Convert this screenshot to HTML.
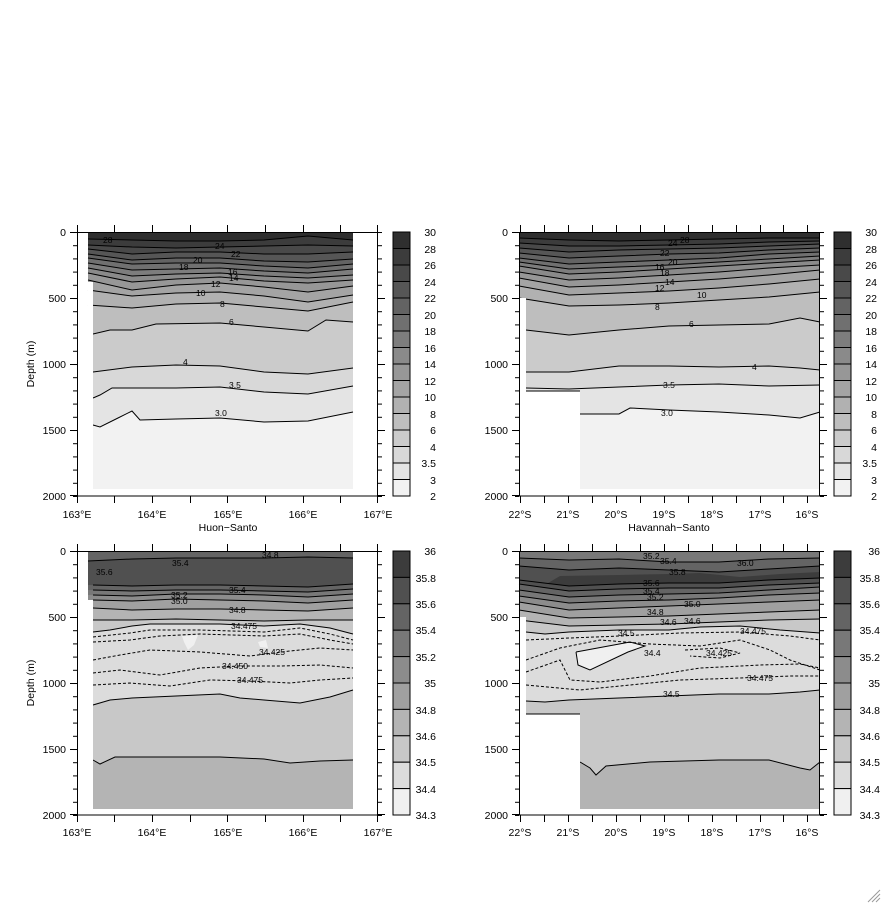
<!DOCTYPE html>
<html><head><meta charset="utf-8"><style>
html,body{margin:0;padding:0;background:#fff;}
svg{display:block;}
text{font-family:"Liberation Sans",sans-serif;font-size:10.5px;fill:#000;}
.cl{font-size:8.5px;}
</style></head><body>
<svg width="882" height="905" viewBox="0 0 882 905" xmlns="http://www.w3.org/2000/svg">
<defs>
<pattern id="ty1" patternUnits="userSpaceOnUse" width="5" height="13.2" patternTransform="translate(0,232)"><rect x="0" y="0" width="5" height="1" fill="#000"/></pattern>
<pattern id="ty2" patternUnits="userSpaceOnUse" width="5" height="13.2" patternTransform="translate(0,551)"><rect x="0" y="0" width="5" height="1" fill="#000"/></pattern>
</defs>

<!-- ============ TOP LEFT (temperature, Huon-Santo) ============ -->
<g>
<rect x="88" y="232" width="265" height="257" fill="#2f2f2f"/>
<g stroke="none">
<path fill="#3c3c3c" d="M88,239 L132,240 L176,241 L220,241 L264,240 L308,236 L353,240 L353,489 L88,489Z"/>
<path fill="#494949" d="M88,245 L132,247 L176,248 L220,247 L264,246 L308,245 L353,246 L353,489 L88,489Z"/>
<path fill="#565656" d="M88,249 L132,254 L176,252 L220,252 L264,254 L308,254 L353,252 L353,489 L88,489Z"/>
<path fill="#636363" d="M88,254 L132,260 L176,258 L220,258 L264,261 L308,262 L353,259 L353,489 L88,489Z"/>
<path fill="#707070" d="M88,258 L132,264 L176,263 L220,263 L264,266 L308,268 L353,264 L353,489 L88,489Z"/>
<path fill="#7d7d7d" d="M88,263 L132,270 L176,269 L220,268 L264,271 L308,273 L353,269 L353,489 L88,489Z"/>
<path fill="#8a8a8a" d="M88,268 L132,276 L176,274 L220,273 L264,276 L308,278 L353,275 L353,489 L88,489Z"/>
<path fill="#979797" d="M88,273 L132,282 L176,279 L220,277 L264,281 L308,283 L353,280 L353,489 L88,489Z"/>
<path fill="#a4a4a4" d="M88,280 L132,290 L176,285 L220,283 L264,287 L308,292 L353,286 L353,489 L88,489Z"/>
<path fill="#b1b1b1" d="M88,290 L132,296 L176,293 L220,292 L264,296 L308,302 L353,295 L353,489 L88,489Z"/>
<path fill="#bebebe" d="M88,305 L132,308 L176,304 L220,303 L264,307 L308,311 L353,302 L353,489 L88,489Z"/>
<path fill="#cbcbcb" d="M88,334 L110,330 L132,330 L156,324 L220,323 L264,327 L308,331 L326,320 L353,322 L353,489 L88,489Z"/>
<path fill="#d8d8d8" d="M88,372 L132,367 L176,365 L220,366 L264,372 L308,374 L353,368 L353,489 L88,489Z"/>
<path fill="#e4e4e4" d="M88,398 L100,395 L112,388 L176,388 L220,387 L264,392 L308,394 L353,386 L353,489 L88,489Z"/>
<path fill="#f2f2f2" d="M88,425 L100,427 L118,418 L132,411 L140,420 L176,419 L220,418 L264,422 L308,421 L353,412 L353,489 L88,489Z"/>
</g>
<g fill="none" stroke="#000" stroke-width="1">
<polyline points="88,239 132,240 176,241 220,241 264,240 308,236 353,240"/>
<polyline points="88,245 132,247 176,248 220,247 264,246 308,245 353,246"/>
<polyline points="88,249 132,254 176,252 220,252 264,254 308,254 353,252"/>
<polyline points="88,254 132,260 176,258 220,258 264,261 308,262 353,259"/>
<polyline points="88,258 132,264 176,263 220,263 264,266 308,268 353,264"/>
<polyline points="88,263 132,270 176,269 220,268 264,271 308,273 353,269"/>
<polyline points="88,268 132,276 176,274 220,273 264,276 308,278 353,275"/>
<polyline points="88,273 132,282 176,279 220,277 264,281 308,283 353,280"/>
<polyline points="88,280 132,290 176,285 220,283 264,287 308,292 353,286"/>
<polyline points="88,290 132,296 176,293 220,292 264,296 308,302 353,295"/>
<polyline points="88,305 132,308 176,304 220,303 264,307 308,311 353,302"/>
<polyline points="93,334 110,330 132,330 156,324 220,323 264,327 308,331 326,320 353,322"/>
<polyline points="93,372 132,367 176,365 220,366 264,372 308,374 353,368"/>
<polyline points="93,398 100,395 112,388 176,388 220,387 264,392 308,394 353,386"/>
<polyline points="93,425 100,427 118,418 132,411 140,420 176,419 220,418 264,422 308,421 353,412"/>
</g>
<rect x="88" y="282" width="5" height="208" fill="#fff"/>
<g class="cl">
<text class="cl" x="103" y="243">28</text><text class="cl" x="215" y="249">24</text>
<text class="cl" x="231" y="257">22</text><text class="cl" x="193" y="263">20</text>
<text class="cl" x="179" y="270">18</text><text class="cl" x="228" y="275">16</text>
<text class="cl" x="229" y="281">14</text><text class="cl" x="211" y="287">12</text>
<text class="cl" x="196" y="296">10</text><text class="cl" x="220" y="307">8</text>
<text class="cl" x="229" y="325">6</text><text class="cl" x="183" y="365">4</text>
<text class="cl" x="229" y="388">3.5</text><text class="cl" x="215" y="416">3.0</text>
</g>
</g>

<!-- ============ TOP RIGHT (temperature, Havannah-Santo) ============ -->
<g>
<rect x="519" y="232" width="301" height="257" fill="#2f2f2f"/>
<path fill="#3c3c3c" d="M519,238 L569,240 L619,241 L669,240 L719,239 L769,238 L820,238 L820,489 L519,489Z"/>
<path fill="#494949" d="M519,243 L569,246 L619,246 L669,245 L719,244 L769,242 L820,241 L820,489 L519,489Z"/>
<path fill="#565656" d="M519,248 L569,252 L619,250 L669,249 L719,248 L769,246 L820,244 L820,489 L519,489Z"/>
<path fill="#636363" d="M519,253 L569,258 L619,256 L669,254 L719,253 L769,250 L820,248 L820,489 L519,489Z"/>
<path fill="#707070" d="M519,258 L569,264 L619,262 L669,260 L719,258 L769,254 L820,252 L820,489 L519,489Z"/>
<path fill="#7d7d7d" d="M519,262 L569,269 L619,267 L669,265 L719,262 L769,259 L820,256 L820,489 L519,489Z"/>
<path fill="#8a8a8a" d="M519,266 L569,274 L619,272 L669,269 L719,266 L769,263 L820,260 L820,489 L519,489Z"/>
<path fill="#979797" d="M519,272 L569,280 L619,278 L669,275 L719,272 L769,268 L820,265 L820,489 L519,489Z"/>
<path fill="#a4a4a4" d="M519,278 L569,287 L619,285 L669,282 L719,279 L769,275 L820,270 L820,489 L519,489Z"/>
<path fill="#b1b1b1" d="M519,286 L569,295 L619,293 L669,291 L719,288 L769,284 L820,279 L820,489 L519,489Z"/>
<path fill="#bebebe" d="M519,298 L569,306 L619,305 L669,303 L719,300 L769,297 L820,292 L820,489 L519,489Z"/>
<path fill="#cbcbcb" d="M519,330 L569,335 L619,330 L669,326 L719,325 L769,324 L800,318 L820,322 L820,489 L519,489Z"/>
<path fill="#d8d8d8" d="M519,372 L569,372 L619,366 L669,366 L719,367 L769,366 L800,368 L820,370 L820,489 L519,489Z"/>
<path fill="#e4e4e4" d="M519,388 L569,389 L619,387 L669,385 L719,384 L769,386 L820,385 L820,489 L519,489Z"/>
<path fill="#f2f2f2" d="M580,414 L619,414 L630,408 L669,410 L719,412 L769,415 L800,418 L820,412 L820,489 L580,489Z"/>
<g fill="none" stroke="#000">
<polyline points="519,238 569,240 619,241 669,240 719,239 769,238 820,238"/>
<polyline points="519,243 569,246 619,246 669,245 719,244 769,242 820,241"/>
<polyline points="519,248 569,252 619,250 669,249 719,248 769,246 820,244"/>
<polyline points="519,253 569,258 619,256 669,254 719,253 769,250 820,248"/>
<polyline points="519,258 569,264 619,262 669,260 719,258 769,254 820,252"/>
<polyline points="519,262 569,269 619,267 669,265 719,262 769,259 820,256"/>
<polyline points="519,266 569,274 619,272 669,269 719,266 769,263 820,260"/>
<polyline points="519,272 569,280 619,278 669,275 719,272 769,268 820,265"/>
<polyline points="519,278 569,287 619,285 669,282 719,279 769,275 820,270"/>
<polyline points="519,286 569,295 619,293 669,291 719,288 769,284 820,279"/>
<polyline points="519,298 569,306 619,305 669,303 719,300 769,297 820,292"/>
<polyline points="526,330 569,335 619,330 669,326 719,325 769,324 800,318 820,322"/>
<polyline points="526,372 569,372 619,366 669,366 719,367 769,366 800,368 820,370"/>
<polyline points="526,388 569,389 619,387 669,385 719,384 769,386 820,385"/>
<polyline points="580,414 619,414 630,408 669,410 719,412 769,415 800,418 820,412"/>
</g>
<rect x="519" y="298" width="7" height="192" fill="#fff"/>
<rect x="519" y="391" width="61" height="99" fill="#fff"/>
<line x1="526" y1="391" x2="580" y2="391" stroke="#000"/>
<text class="cl" x="680" y="243">28</text><text class="cl" x="668" y="246">24</text>
<text class="cl" x="660" y="256">22</text><text class="cl" x="668" y="265">20</text>
<text class="cl" x="655" y="270">16</text><text class="cl" x="660" y="276">18</text>
<text class="cl" x="665" y="285">14</text><text class="cl" x="655" y="291">12</text>
<text class="cl" x="697" y="298">10</text><text class="cl" x="655" y="310">8</text>
<text class="cl" x="689" y="327">6</text><text class="cl" x="752" y="370">4</text>
<text class="cl" x="663" y="388">3.5</text><text class="cl" x="661" y="416">3.0</text>
</g>

<!-- ============ BOTTOM LEFT (salinity) ============ -->
<g>
<rect x="88" y="551" width="265" height="258" fill="#646464"/>
<path fill="#505050" d="M88,561 L132,559 L176,558 L220,558 L264,558 L308,557 L353,558 L353,809 L88,809Z"/>
<path fill="#646464" d="M88,585 L132,586 L176,585 L220,585 L264,586 L308,587 L353,584 L353,809 L88,809Z"/>
<path fill="#787878" d="M88,590 L132,591 L176,590 L220,590 L264,591 L308,592 L353,589 L353,809 L88,809Z"/>
<path fill="#8c8c8c" d="M88,595 L132,596 L176,594 L220,594 L264,595 L308,597 L353,594 L353,809 L88,809Z"/>
<path fill="#a0a0a0" d="M88,600 L132,601 L176,599 L220,600 L264,601 L308,603 L353,600 L353,809 L88,809Z"/>
<path fill="#b4b4b4" d="M88,608 L132,610 L176,609 L220,609 L264,610 L308,611 L353,608 L353,809 L88,809Z"/>
<path fill="#c8c8c8" d="M88,620 L132,620 L176,619 L220,620 L264,621 L308,620 L353,620 L353,809 L88,809Z"/>
<path fill="#dcdcdc" d="M88,632 L110,630 L132,626 L150,624 L176,624 L220,624 L264,626 L300,624 L330,628 L353,634 L353,809 L88,809Z"/>
<path fill="#c8c8c8" d="M88,705 L110,700 L132,698 L176,696 L220,694 L240,698 L264,700 L300,703 L330,697 L353,690 L353,809 L88,809Z"/>
<path fill="#b4b4b4" d="M93,760 L100,764 L115,757 L176,757 L220,757 L264,759 L290,763 L320,761 L353,760 L353,809 L93,809Z"/>
<path fill="#f0f0f0" d="M182,636 L198,635 L194,645 L188,650 L184,642Z"/>
<path fill="#f0f0f0" d="M258,642 L266,640 L268,648 L260,647Z"/>
<g fill="none" stroke="#000">
<polyline points="88,561 132,559 176,558 220,558 264,558 308,557 353,558"/>
<polyline points="93,585 132,586 176,585 220,585 264,586 308,587 353,584"/>
<polyline points="93,590 132,591 176,590 220,590 264,591 308,592 353,589"/>
<polyline points="93,595 132,596 176,594 220,594 264,595 308,597 353,594"/>
<polyline points="93,600 132,601 176,599 220,600 264,601 308,603 353,600"/>
<polyline points="93,608 132,610 176,609 220,609 264,610 308,611 353,608"/>
<polyline points="93,620 132,620 176,619 220,620 264,621 308,620 353,620"/>
<polyline points="93,632 110,630 132,626 150,624 176,624 220,624 264,626 300,624 330,628 353,634"/>
<polyline points="93,705 110,700 132,698 176,696 220,694 240,698 264,700 300,703 330,697 353,690"/>
<polyline points="93,760 100,764 115,757 176,757 220,757 264,759 290,763 320,761 353,760"/>
</g>
<g fill="none" stroke="#000" stroke-dasharray="3,2">
<polyline points="93,637 130,633 150,630 200,630 264,632 300,628 330,634 353,640"/>
<polyline points="93,642 130,640 160,636 200,634 264,636 300,634 330,640 353,644"/>
<polyline points="93,660 120,655 150,650 200,652 250,656 290,651 320,648 353,650"/>
<polyline points="93,673 120,670 160,675 200,668 240,666 280,666 320,665 353,668"/>
<polyline points="93,685 130,683 170,686 210,680 250,681 290,683 320,680 353,678"/>
</g>
<rect x="88" y="600" width="5" height="210" fill="#fff"/>
<text class="cl" x="262" y="558">34.8</text><text class="cl" x="172" y="566">35.4</text>
<text class="cl" x="96" y="575">35.6</text><text class="cl" x="229" y="593">35.4</text>
<text class="cl" x="171" y="598">35.2</text><text class="cl" x="171" y="604">35.0</text>
<text class="cl" x="229" y="613">34.8</text><text class="cl" x="231" y="629">34.475</text>
<text class="cl" x="259" y="655">34.425</text><text class="cl" x="222" y="669">34.450</text>
<text class="cl" x="237" y="683">34.475</text>
</g>

<!-- ============ BOTTOM RIGHT (salinity) ============ -->
<g>
<rect x="519" y="551" width="301" height="258" fill="#787878"/>
<path fill="#646464" d="M519,558 L569,560 L619,559 L669,562 L719,562 L769,559 L820,558 L820,809 L519,809Z"/>
<path fill="#505050" d="M519,566 L569,570 L619,568 L669,570 L719,572 L769,569 L820,566 L820,809 L519,809Z"/>
<path fill="#3c3c3c" d="M560,576 L619,575 L669,574 L700,573 L740,577 L780,574 L820,572 L820,809 L519,809 L519,600Z"/>
<path fill="#505050" d="M519,580 L569,586 L619,584 L669,583 L719,583 L769,580 L820,578 L820,809 L519,809Z"/>
<path fill="#646464" d="M519,584 L569,591 L619,589 L669,588 L719,588 L769,585 L820,583 L820,809 L519,809Z"/>
<path fill="#787878" d="M519,590 L569,597 L619,595 L669,594 L719,593 L769,590 L820,587 L820,809 L519,809Z"/>
<path fill="#8c8c8c" d="M519,596 L569,603 L619,601 L669,600 L719,598 L769,595 L820,593 L820,809 L519,809Z"/>
<path fill="#a0a0a0" d="M519,602 L569,610 L619,608 L669,606 L719,604 L769,602 L820,600 L820,809 L519,809Z"/>
<path fill="#b4b4b4" d="M519,610 L569,618 L619,617 L669,616 L719,614 L769,612 L820,610 L820,809 L519,809Z"/>
<path fill="#c8c8c8" d="M519,620 L569,626 L619,625 L669,624 L719,622 L769,620 L820,619 L820,809 L519,809Z"/>
<path fill="#dcdcdc" d="M519,632 L545,634 L569,632 L619,630 L669,630 L700,627 L740,626 L780,630 L820,633 L820,809 L519,809Z"/>
<path fill="#c8c8c8" d="M519,701 L545,702 L569,700 L619,698 L669,696 L719,694 L769,694 L800,692 L820,690 L820,809 L519,809Z"/>
<path fill="#b4b4b4" d="M580,762 L590,768 L596,775 L606,766 L650,762 L719,760 L769,760 L800,768 L810,770 L820,762 L820,809 L580,809Z"/>
<path fill="#f0f0f0" d="M576,652 L630,642 L645,646 L628,652 L590,670 L578,665Z"/>
<g fill="none" stroke="#000">
<polyline points="519,558 569,560 619,559 669,562 719,562 769,559 820,558"/>
<polyline points="519,566 569,570 619,568 669,570 719,572 769,569 820,566"/>
<polyline points="519,580 569,586 619,584 669,583 719,583 769,580 820,578"/>
<polyline points="519,584 569,591 619,589 669,588 719,588 769,585 820,583"/>
<polyline points="519,590 569,597 619,595 669,594 719,593 769,590 820,587"/>
<polyline points="519,596 569,603 619,601 669,600 719,598 769,595 820,593"/>
<polyline points="519,602 569,610 619,608 669,606 719,604 769,602 820,600"/>
<polyline points="519,610 569,618 619,617 669,616 719,614 769,612 820,610"/>
<polyline points="519,620 569,626 619,625 669,624 719,622 769,620 820,619"/>
<polyline points="526,632 545,634 569,632 619,630 669,630 700,627 740,626 780,630 820,633"/>
<polyline points="526,701 545,702 569,700 619,698 669,696 719,694 769,694 800,692 820,690"/>
<polyline points="580,762 590,768 596,775 606,766 650,762 719,760 769,760 800,768 810,770 820,762"/>
<polyline points="576,652 630,642 645,646 628,652 590,670 578,665 576,652"/>
</g>
<g fill="none" stroke="#000" stroke-dasharray="3,2">
<polyline points="526,640 570,638 620,636 680,633 740,632 790,636 820,640"/>
<polyline points="526,660 560,648 600,640 650,644 700,646 740,640 770,650 790,660 820,670"/>
<polyline points="526,672 560,660 570,680 600,682 650,676 700,668 760,665 800,664 820,668"/>
<polyline points="526,685 580,690 620,686 680,680 740,678 790,676 820,676"/>
<polyline points="685,650 720,648 740,653 720,658 690,656Z"/>
</g>
<rect x="519" y="617" width="7" height="193" fill="#fff"/>
<rect x="519" y="714" width="61" height="96" fill="#fff"/>
<line x1="526" y1="714" x2="580" y2="714" stroke="#000"/>
<text class="cl" x="643" y="559">35.2</text><text class="cl" x="660" y="564">35.4</text>
<text class="cl" x="737" y="566">36.0</text><text class="cl" x="669" y="575">35.8</text>
<text class="cl" x="643" y="586">35.6</text><text class="cl" x="643" y="594">35.4</text>
<text class="cl" x="647" y="600">35.2</text><text class="cl" x="684" y="607">35.0</text>
<text class="cl" x="647" y="615">34.8</text><text class="cl" x="660" y="625">34.6</text>
<text class="cl" x="684" y="624">34.6</text><text class="cl" x="618" y="636">34.5</text>
<text class="cl" x="740" y="634">34.475</text><text class="cl" x="644" y="656">34.4</text>
<text class="cl" x="706" y="656">34.425</text><text class="cl" x="747" y="681">34.475</text>
<text class="cl" x="663" y="697">34.5</text>
</g>

<!-- ============ FRAMES, TICKS, LABELS ============ -->
<g fill="none" stroke="#000" stroke-width="1">
<rect x="77.5" y="232.5" width="300" height="263.5"/>
<rect x="519.5" y="232.5" width="300" height="263.5"/>
<rect x="77.5" y="551.5" width="300" height="263.5"/>
<rect x="519.5" y="551.5" width="300" height="263.5"/>
<line x1="77" y1="232.5" x2="378" y2="232.5"/>
</g>
<rect x="73" y="232" width="4" height="265" fill="url(#ty1)"/>
<rect x="378" y="232" width="4" height="265" fill="url(#ty1)"/>
<rect x="515" y="232" width="4" height="265" fill="url(#ty1)"/>
<rect x="820" y="232" width="4" height="265" fill="url(#ty1)"/>
<rect x="73" y="551" width="4" height="265" fill="url(#ty2)"/>
<rect x="378" y="551" width="4" height="265" fill="url(#ty2)"/>
<rect x="515" y="551" width="4" height="265" fill="url(#ty2)"/>
<rect x="820" y="551" width="4" height="265" fill="url(#ty2)"/>
<g stroke="#000">
<path d="M70,232.5h7M70,298.5h7M70,364.5h7M70,430.5h7M70,495.5h7M378,298.5h7M378,364.5h7M378,430.5h7M378,495.5h7
M512,232.5h7M512,298.5h7M512,364.5h7M512,430.5h7M512,495.5h7M820,298.5h7M820,364.5h7M820,430.5h7M820,495.5h7
M70,551.5h7M70,617.5h7M70,683.5h7M70,749.5h7M70,814.5h7M378,617.5h7M378,683.5h7M378,749.5h7M378,814.5h7
M512,551.5h7M512,617.5h7M512,683.5h7M512,749.5h7M512,814.5h7M820,617.5h7M820,683.5h7M820,749.5h7M820,814.5h7"/>
<path d="M77.5,225v7M114.5,225v7M152.5,225v7M190.5,225v7M227.5,225v7M265.5,225v7M303.5,225v7M340.5,225v7M377.5,225v7
M77.5,496v7M114.5,496v7M152.5,496v7M190.5,496v7M227.5,496v7M265.5,496v7M303.5,496v7M340.5,496v7M377.5,496v7
M77.5,544v7M114.5,544v7M152.5,544v7M190.5,544v7M227.5,544v7M265.5,544v7M303.5,544v7M340.5,544v7M377.5,544v7
M77.5,815v7M114.5,815v7M152.5,815v7M190.5,815v7M227.5,815v7M265.5,815v7M303.5,815v7M340.5,815v7M377.5,815v7"/>
<path d="M520.5,225v7M544.5,225v7M568.5,225v7M592.5,225v7M616.5,225v7M640.5,225v7M664.5,225v7M688.5,225v7M712.5,225v7M736.5,225v7M760.5,225v7M783.5,225v7M807.5,225v7
M520.5,496v7M544.5,496v7M568.5,496v7M592.5,496v7M616.5,496v7M640.5,496v7M664.5,496v7M688.5,496v7M712.5,496v7M736.5,496v7M760.5,496v7M783.5,496v7M807.5,496v7
M520.5,544v7M544.5,544v7M568.5,544v7M592.5,544v7M616.5,544v7M640.5,544v7M664.5,544v7M688.5,544v7M712.5,544v7M736.5,544v7M760.5,544v7M783.5,544v7M807.5,544v7
M520.5,815v7M544.5,815v7M568.5,815v7M592.5,815v7M616.5,815v7M640.5,815v7M664.5,815v7M688.5,815v7M712.5,815v7M736.5,815v7M760.5,815v7M783.5,815v7M807.5,815v7"/>
</g>

<g text-anchor="end">
<text x="66" y="236">0</text><text x="66" y="302">500</text><text x="66" y="368">1000</text><text x="66" y="434">1500</text><text x="66" y="500">2000</text>
<text x="508" y="236">0</text><text x="508" y="302">500</text><text x="508" y="368">1000</text><text x="508" y="434">1500</text><text x="508" y="500">2000</text>
<text x="66" y="555">0</text><text x="66" y="621">500</text><text x="66" y="687">1000</text><text x="66" y="753">1500</text><text x="66" y="819">2000</text>
<text x="508" y="555">0</text><text x="508" y="621">500</text><text x="508" y="687">1000</text><text x="508" y="753">1500</text><text x="508" y="819">2000</text>
</g>
<g text-anchor="middle">
<text x="77" y="518">163°E</text><text x="152" y="518">164°E</text><text x="228" y="518">165°E</text><text x="303" y="518">166°E</text><text x="378" y="518">167°E</text>
<text x="77" y="836">163°E</text><text x="152" y="836">164°E</text><text x="228" y="836">165°E</text><text x="303" y="836">166°E</text><text x="378" y="836">167°E</text>
<text x="520" y="518">22°S</text><text x="568" y="518">21°S</text><text x="616" y="518">20°S</text><text x="664" y="518">19°S</text><text x="712" y="518">18°S</text><text x="760" y="518">17°S</text><text x="807" y="518">16°S</text>
<text x="520" y="836">22°S</text><text x="568" y="836">21°S</text><text x="616" y="836">20°S</text><text x="664" y="836">19°S</text><text x="712" y="836">18°S</text><text x="760" y="836">17°S</text><text x="807" y="836">16°S</text>
<text x="228" y="531">Huon−Santo</text>
<text x="669" y="531">Havannah−Santo</text>
<text transform="translate(34,364) rotate(-90)">Depth (m)</text>
<text transform="translate(34,683) rotate(-90)">Depth (m)</text>
</g>

<!-- ============ COLORBARS ============ -->
<g stroke="#000" stroke-width="1">
<rect x="393" y="232" width="17" height="16.5" fill="#2f2f2f"/><rect x="393" y="248.5" width="17" height="16.5" fill="#3c3c3c"/>
<rect x="393" y="265" width="17" height="16.5" fill="#494949"/><rect x="393" y="281.5" width="17" height="16.5" fill="#565656"/>
<rect x="393" y="298" width="17" height="16.5" fill="#636363"/><rect x="393" y="314.5" width="17" height="16.5" fill="#707070"/>
<rect x="393" y="331" width="17" height="16.5" fill="#7d7d7d"/><rect x="393" y="347.5" width="17" height="16.5" fill="#8a8a8a"/>
<rect x="393" y="364" width="17" height="16.5" fill="#979797"/><rect x="393" y="380.5" width="17" height="16.5" fill="#a4a4a4"/>
<rect x="393" y="397" width="17" height="16.5" fill="#b1b1b1"/><rect x="393" y="413.5" width="17" height="16.5" fill="#bebebe"/>
<rect x="393" y="430" width="17" height="16.5" fill="#cbcbcb"/><rect x="393" y="446.5" width="17" height="16.5" fill="#d8d8d8"/>
<rect x="393" y="463" width="17" height="16.5" fill="#e4e4e4"/><rect x="393" y="479.5" width="17" height="16.5" fill="#f2f2f2"/>
</g>
<g stroke="#000" stroke-width="1">
<rect x="834" y="232" width="17" height="16.5" fill="#2f2f2f"/><rect x="834" y="248.5" width="17" height="16.5" fill="#3c3c3c"/>
<rect x="834" y="265" width="17" height="16.5" fill="#494949"/><rect x="834" y="281.5" width="17" height="16.5" fill="#565656"/>
<rect x="834" y="298" width="17" height="16.5" fill="#636363"/><rect x="834" y="314.5" width="17" height="16.5" fill="#707070"/>
<rect x="834" y="331" width="17" height="16.5" fill="#7d7d7d"/><rect x="834" y="347.5" width="17" height="16.5" fill="#8a8a8a"/>
<rect x="834" y="364" width="17" height="16.5" fill="#979797"/><rect x="834" y="380.5" width="17" height="16.5" fill="#a4a4a4"/>
<rect x="834" y="397" width="17" height="16.5" fill="#b1b1b1"/><rect x="834" y="413.5" width="17" height="16.5" fill="#bebebe"/>
<rect x="834" y="430" width="17" height="16.5" fill="#cbcbcb"/><rect x="834" y="446.5" width="17" height="16.5" fill="#d8d8d8"/>
<rect x="834" y="463" width="17" height="16.5" fill="#e4e4e4"/><rect x="834" y="479.5" width="17" height="16.5" fill="#f2f2f2"/>
</g>
<g stroke="#000" stroke-width="1">
<rect x="393" y="551" width="17" height="26.4" fill="#3c3c3c"/><rect x="393" y="577.4" width="17" height="26.4" fill="#505050"/>
<rect x="393" y="603.8" width="17" height="26.4" fill="#646464"/><rect x="393" y="630.2" width="17" height="26.4" fill="#787878"/>
<rect x="393" y="656.6" width="17" height="26.4" fill="#8c8c8c"/><rect x="393" y="683" width="17" height="26.4" fill="#a0a0a0"/>
<rect x="393" y="709.4" width="17" height="26.4" fill="#b4b4b4"/><rect x="393" y="735.8" width="17" height="26.4" fill="#c8c8c8"/>
<rect x="393" y="762.2" width="17" height="26.4" fill="#dcdcdc"/><rect x="393" y="788.6" width="17" height="26.4" fill="#f0f0f0"/>
<rect x="834" y="551" width="17" height="26.4" fill="#3c3c3c"/><rect x="834" y="577.4" width="17" height="26.4" fill="#505050"/>
<rect x="834" y="603.8" width="17" height="26.4" fill="#646464"/><rect x="834" y="630.2" width="17" height="26.4" fill="#787878"/>
<rect x="834" y="656.6" width="17" height="26.4" fill="#8c8c8c"/><rect x="834" y="683" width="17" height="26.4" fill="#a0a0a0"/>
<rect x="834" y="709.4" width="17" height="26.4" fill="#b4b4b4"/><rect x="834" y="735.8" width="17" height="26.4" fill="#c8c8c8"/>
<rect x="834" y="762.2" width="17" height="26.4" fill="#dcdcdc"/><rect x="834" y="788.6" width="17" height="26.4" fill="#f0f0f0"/>
</g>
<g text-anchor="end" font-size="11">
<text x="436" y="236">30</text><text x="436" y="253">28</text><text x="436" y="269">26</text><text x="436" y="286">24</text>
<text x="436" y="302">22</text><text x="436" y="319">20</text><text x="436" y="335">18</text><text x="436" y="352">16</text>
<text x="436" y="368">14</text><text x="436" y="385">12</text><text x="436" y="401">10</text><text x="436" y="418">8</text>
<text x="436" y="434">6</text><text x="436" y="451">4</text><text x="436" y="467">3.5</text><text x="436" y="484">3</text><text x="436" y="500">2</text>
<text x="877" y="236">30</text><text x="877" y="253">28</text><text x="877" y="269">26</text><text x="877" y="286">24</text>
<text x="877" y="302">22</text><text x="877" y="319">20</text><text x="877" y="335">18</text><text x="877" y="352">16</text>
<text x="877" y="368">14</text><text x="877" y="385">12</text><text x="877" y="401">10</text><text x="877" y="418">8</text>
<text x="877" y="434">6</text><text x="877" y="451">4</text><text x="877" y="467">3.5</text><text x="877" y="484">3</text><text x="877" y="500">2</text>
<text x="436" y="555">36</text><text x="436" y="582">35.8</text><text x="436" y="608">35.6</text><text x="436" y="634">35.4</text>
<text x="436" y="661">35.2</text><text x="436" y="687">35</text><text x="436" y="714">34.8</text><text x="436" y="740">34.6</text>
<text x="436" y="766">34.5</text><text x="436" y="793">34.4</text><text x="436" y="819">34.3</text>
<text x="880" y="555">36</text><text x="880" y="582">35.8</text><text x="880" y="608">35.6</text><text x="880" y="634">35.4</text>
<text x="880" y="661">35.2</text><text x="880" y="687">35</text><text x="880" y="714">34.8</text><text x="880" y="740">34.6</text>
<text x="880" y="766">34.5</text><text x="880" y="793">34.4</text><text x="880" y="819">34.3</text>
</g>
<g stroke="#999" stroke-width="1">
<line x1="868" y1="902" x2="880" y2="890"/><line x1="872" y1="902" x2="880" y2="894"/><line x1="876" y1="902" x2="880" y2="898"/>
</g>
</svg>
</body></html>
